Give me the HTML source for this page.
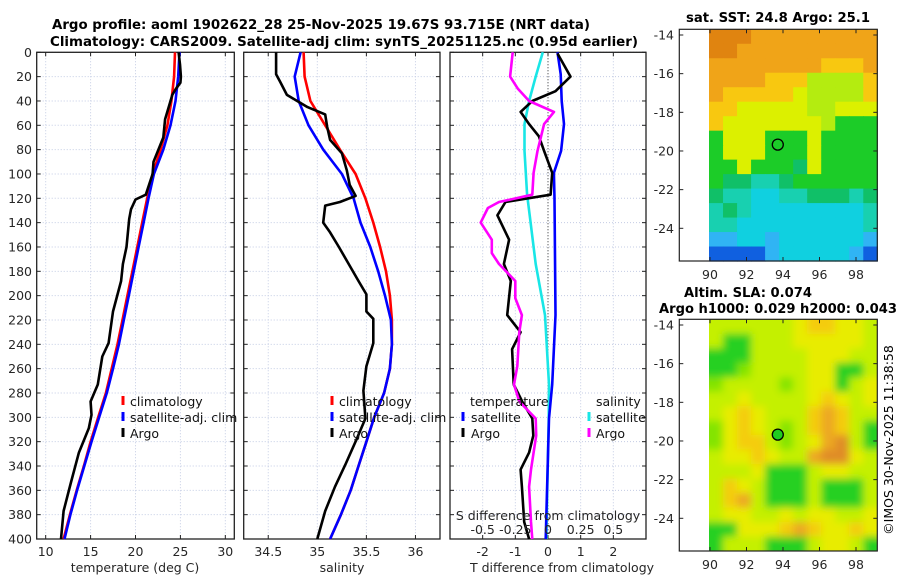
<!DOCTYPE html>
<html><head><meta charset="utf-8"><style>
html,body{margin:0;padding:0;background:#fff;}
svg{display:block;font-family:"DejaVu Sans","Liberation Sans",sans-serif;}
</style></head><body>
<svg id="fig" width="900" height="580" viewBox="0 0 900 580">
<defs>
<filter id="soft" x="-5%" y="-5%" width="110%" height="110%"><feGaussianBlur stdDeviation="4"/></filter>
<clipPath id="slaclip"><rect x="709" y="319.3" width="168.3" height="231.7"/></clipPath>
</defs>
<text x="321" y="29" text-anchor="middle" font-weight="bold" font-size="13" textLength="538" lengthAdjust="spacingAndGlyphs">Argo profile: aoml 1902622_28 25-Nov-2025 19.67S 93.715E (NRT data)</text>
<text x="344" y="46" text-anchor="middle" font-weight="bold" font-size="13" textLength="588" lengthAdjust="spacingAndGlyphs">Climatology: CARS2009. Satellite-adj clim: synTS_20251125.nc (0.95d earlier)</text>
<text x="778" y="22" text-anchor="middle" font-weight="bold" font-size="13" textLength="184" lengthAdjust="spacingAndGlyphs">sat. SST: 24.8 Argo: 25.1</text>
<text x="748" y="297" text-anchor="middle" font-weight="bold" font-size="13" textLength="128" lengthAdjust="spacingAndGlyphs">Altim. SLA: 0.074</text>
<text x="778" y="313" text-anchor="middle" font-weight="bold" font-size="13" textLength="238" lengthAdjust="spacingAndGlyphs">Argo h1000: 0.029 h2000: 0.043</text>
<text transform="translate(893,440) rotate(-90)" text-anchor="middle" font-size="12.5">©IMOS 30-Nov-2025 11:38:58</text>
<g id="layer"></g>
</svg>
<script>
// ---- temperature panel data ----
const tDepth = [0,20,40,60,80,100,120,140,160,180,200,220,240,260,280,300,320,340,360,380,400];
const tClim = [24.4,24.3,24.0,23.55,22.8,21.9,21.3,20.75,20.2,19.65,19.1,18.55,18.0,17.35,16.7,15.85,15.0,14.25,13.45,12.7,12.0];
const tSat = [24.9,24.75,24.45,23.9,23.1,22.05,21.45,20.9,20.35,19.8,19.25,18.7,18.15,17.5,16.8,15.95,15.1,14.3,13.5,12.75,12.1];
const tArgoDepth = [0,10,20,25,30,35,45,55,70,90,100,117,121,129,137,160,174,188,213,239,250,273,287,298,309,329,354,377,400];
const tArgo = [24.8,24.95,25.05,25.0,24.5,24.1,23.7,23.3,23.1,22.0,21.9,21.15,20.0,19.5,19.3,19.0,18.6,18.4,17.5,17.0,16.3,15.8,15.0,15.1,14.8,13.7,12.8,12.0,11.7];
// ---- salinity panel data ----
const sDepth = [0,20,40,60,80,100,120,140,160,180,200,220,240,260,280,300,320,340,360,380,400];
const sClim = [34.86,34.87,34.93,35.08,35.23,35.39,35.49,35.57,35.64,35.70,35.74,35.76,35.76,35.74,35.68,35.58,35.5,35.42,35.34,35.24,35.13];
const sSat = [34.83,34.77,34.81,34.91,35.06,35.25,35.37,35.44,35.54,35.62,35.69,35.75,35.76,35.74,35.68,35.58,35.5,35.42,35.34,35.24,35.13];
const sArgoDepth = [0,18,24,35,45,51,61,72,83,97,109,118,123,126,140,148,160,174,188,199,213,219,239,258,278,301,318,338,357,377,400];
const sArgo = [34.58,34.58,34.62,34.69,34.9,35.08,35.1,35.13,35.25,35.3,35.33,35.39,35.23,35.08,35.06,35.13,35.22,35.32,35.42,35.5,35.5,35.57,35.57,35.5,35.47,35.49,35.4,35.29,35.18,35.08,35.0];
// ---- difference panel data ----
const dTArgoDepth = [1,20,32,40,49,59,69,81,99,117,123,134,154,174,188,216,230,244,273,287,301,315,329,343,357,386,400];
const dTArgo = [0.29,0.69,0.23,-0.48,-0.84,-0.58,-0.28,-0.12,0.13,0.08,-1.3,-1.55,-1.19,-1.35,-1.14,-1.25,-0.84,-1.1,-1.05,-0.79,-0.48,-0.45,-0.58,-0.84,-0.8,-0.73,-0.58];
const dTSatDepth = [0,18,40,59,81,99,120,216,273,301,400];
const dTSat = [0.29,0.39,0.42,0.49,0.4,0.18,0.2,0.23,0.13,0.03,-0.07];
const dSSatDepth = [0,20,40,59,81,117,134,174,216,273,301,400];
const dSSat = [-0.04,-0.094,-0.145,-0.18,-0.18,-0.16,-0.14,-0.094,-0.023,0.008,0.005,-0.013];
const dSArgoDepth = [0,20,30,40,49,59,81,99,117,123,128,140,154,165,174,188,202,216,230,258,273,287,301,315,343,357,386,400];
const dSArgo = [-0.27,-0.29,-0.23,-0.145,0.046,-0.03,-0.08,-0.11,-0.12,-0.375,-0.46,-0.515,-0.43,-0.43,-0.375,-0.25,-0.25,-0.2,-0.22,-0.235,-0.26,-0.22,-0.094,-0.09,-0.13,-0.145,-0.13,-0.12];
// ---- ticks ----
const depthTicks = [0,20,40,60,80,100,120,140,160,180,200,220,240,260,280,300,320,340,360,380,400];
const tTicks = [10,15,20,25,30];
const sTicks = [34.5,35,35.5,36];
const dTTicks = [-2,-1,0,1,2];
const dSTicks = [-0.5,-0.25,0,0.25,0.5];
const dSTickLabels = ["-0.5","-0.25","0","0.25","0.5"];
const latTicks = [-14,-16,-18,-20,-22,-24];
const lonTicks = [90,92,94,96,98];
// ---- map images (colour code grids) ----
const sstRows = ["OOOooooooooo","OOoooooooooo","ooooooooYYYo","ooooYYYLLLLY","oYYYYYyLLLLY","YYyyyyyLLyyy","YyyyyyyyLGGG","GyyyGGGyGGGG","GyyyGGGyGGGG","GGyGGGgyGGGG","GggccgGGGGGG","gccCCccgggcg","cgcCCCCCCCCc","ccCCCCCCCCCc","bbCCbCCCCCCb","BBBBbCCCCCbB"];
const slaRows = ["LLLLLLyYYyyL","LGGLLLyyyyyL","GGGLLLLyyyLL","GGgLLLLyyGGL","gLLLLgLyyGLy","LLyLLLLyYyLy","LyYyLLLYoYLL","gyYyLgLYoYLG","gyYYLgLyoOLG","LyyYyLLoOOyL","LLLyGGGLyyLL","LYyLGGGLGGGL","LYoLGGGLGGGL","LyyLLyLyyLLy","GGyyyYoYyyYy","GLLLGGGLyyLG"];
const argoLon = 93.715, argoLat = -19.67;

const NS="http://www.w3.org/2000/svg";
const layer=document.getElementById('layer');
function el(tag,attrs,parent){const e=document.createElementNS(NS,tag);for(const k in attrs)e.setAttribute(k,attrs[k]);(parent||layer).appendChild(e);return e;}
const Y0=52.3,Y1=539;
const yD=d=>Y0+(d/400)*(Y1-Y0);
function lin(d0,d1,r0,r1){return v=>r0+(v-d0)/(d1-d0)*(r1-r0);}

function panel(name,x0,x1,xs,ticks,labels){
  const g=el('g',{});
  
  
  depthTicks.forEach(d=>{const l=el('line',{x1:x0,x2:x1,y1:yD(d),y2:yD(d),stroke:'#c4cce4','stroke-width':1,'stroke-dasharray':'1,2'},g);
    
    el('line',{x1:x0,x2:x0+4,y1:yD(d),y2:yD(d),stroke:'#222'},g);el('line',{x1:x1-4,x2:x1,y1:yD(d),y2:yD(d),stroke:'#222'},g);});
  ticks.forEach((t,i)=>{const x=xs(t);const l=el('line',{x1:x,x2:x,y1:Y0,y2:Y1,stroke:'#c4cce4','stroke-width':1,'stroke-dasharray':'1,2'},g);
    
    el('line',{x1:x,x2:x,y1:Y1-4,y2:Y1,stroke:'#222'},g);el('line',{x1:x,x2:x,y1:Y0,y2:Y0+4,stroke:'#222'},g);
    if(labels){const tx=el('text',{x:x,y:556,'text-anchor':'middle','font-size':12.5,fill:'#262626'},g);tx.textContent=labels[i];
      }});
  const r=el('rect',{x:x0,y:Y0,width:x1-x0,height:Y1-Y0,fill:'none',stroke:'#222','stroke-width':1.3},g);
  
  return g;
}
function line(name,depths,vals,xs,color,g){
  const pts=depths.map((d,i)=>xs(vals[i]).toFixed(1)+','+yD(d).toFixed(1)).join(' ');
  const p=el('polyline',{points:pts,fill:'none',stroke:color,'stroke-width':2.6,'stroke-linejoin':'round'},g);
  
  
}
function txt(s,x,y,opts,name,g){const t=el('text',Object.assign({x:x,y:y,'font-size':12.5,fill:'#111'},opts||{}),g);t.textContent=s;
  return t;}
function legendMark(x,y,color,name,g){const l=el('line',{x1:x,x2:x,y1:y-6,y2:y+3,stroke:color,'stroke-width':3},g);
  }

depthTicks.forEach(d=>{txt(String(d),32,yD(d)+4.5,{'text-anchor':'end',fill:'#262626'},'y-tick-label');});

const xT=lin(9,31,36.7,234.3);
const g1=panel('temperature-panel',36.7,234.3,xT,tTicks,tTicks.map(String));
line('temp-climatology-line',tDepth,tClim,xT,'#ff0000',g1);
line('temp-satellite-line',tDepth,tSat,xT,'#0000ff',g1);
line('temp-argo-line',tArgoDepth,tArgo,xT,'#000',g1);
txt('temperature (deg C)',135,572,{'text-anchor':'middle',fill:'#262626'},'x-axis-title-temperature',g1);
legendMark(123,402,'#ff0000','legend-climatology-marker',g1);txt('climatology',130,406,{},'legend-climatology',g1);
legendMark(123,418,'#0000ff','legend-satellite-marker',g1);txt('satellite-adj. clim',130,422,{},'legend-satellite',g1);
legendMark(123,434,'#000','legend-argo-marker',g1);txt('Argo',130,438,{},'legend-argo',g1);

const xS=lin(34.25,36.25,243.7,440);
const g2=panel('salinity-panel',243.7,440,xS,sTicks,sTicks.map(String));
line('sal-climatology-line',sDepth,sClim,xS,'#ff0000',g2);
line('sal-satellite-line',sDepth,sSat,xS,'#0000ff',g2);
line('sal-argo-line',sArgoDepth,sArgo,xS,'#000',g2);
txt('salinity',342,572,{'text-anchor':'middle',fill:'#262626'},'x-axis-title-salinity',g2);
legendMark(332,402,'#ff0000','legend-climatology-marker',g2);txt('climatology',339,406,{},'legend-climatology',g2);
legendMark(332,418,'#0000ff','legend-satellite-marker',g2);txt('satellite-adj. clim',339,422,{},'legend-satellite',g2);
legendMark(332,434,'#000','legend-argo-marker',g2);txt('Argo',339,438,{},'legend-argo',g2);

const xDT=lin(-3,3,450,646);
const xDS=lin(-0.75,0.75,450,646);
const g3=panel('difference-panel',450,646,xDT,dTTicks,dTTicks.map(String));
const zl=el('line',{x1:xDT(0),x2:xDT(0),y1:Y0,y2:Y1,stroke:'#333','stroke-width':1,'stroke-dasharray':'1,2'},g3);

line('diff-sal-satellite-line',dSSatDepth,dSSat,xDS,'#19e6e6',g3);
line('diff-temp-satellite-line',dTSatDepth,dTSat,xDT,'#0000ff',g3);
line('diff-temp-argo-line',dTArgoDepth,dTArgo,xDT,'#000',g3);
line('diff-sal-argo-line',dSArgoDepth,dSArgo,xDS,'#ff00ff',g3);
txt('T difference from climatology',562,572,{'text-anchor':'middle',fill:'#262626'},'x-axis-title-tdiff',g3);
txt('S difference from climatology',548,520,{'text-anchor':'middle',fill:'#262626'},'s-axis-title',g3);
dSTicks.forEach((v,i)=>txt(dSTickLabels[i],xDS(v),534,{'text-anchor':'middle',fill:'#262626'},'s-tick-label',g3));
txt('temperature',470,406,{},'legend-temperature-heading',g3);
txt('salinity',596,406,{},'legend-salinity-heading',g3);
legendMark(463,418,'#0000ff','legend-t-satellite-marker',g3);txt('satellite',471,422,{},'legend-t-satellite',g3);
legendMark(463,434,'#000','legend-t-argo-marker',g3);txt('Argo',471,438,{},'legend-t-argo',g3);
legendMark(589,418,'#19e6e6','legend-s-satellite-marker',g3);txt('satellite',596,422,{},'legend-s-satellite',g3);
legendMark(589,434,'#ff00ff','legend-s-argo-marker',g3);txt('Argo',596,438,{},'legend-s-argo',g3);

const sstCol={O:'#e08410',o:'#f0a418',Y:'#f8c810',y:'#dcf000',L:'#b4ec10',G:'#1ccc28',g:'#10c068',c:'#18d0b0',C:'#10d0e0',b:'#30b4f4',B:'#1060e0'};
const slaCol={L:'#c4f000',y:'#e8ec00',Y:'#f4cc10',o:'#eca820',O:'#e08c28',G:'#28d020',g:'#84e400'};
function map(name,top,rows,cols,filledMarker,smooth){
  const g=el('g',{});
  
  
  const bx0=679.3,bx1=877.3,by0=top,by1=top+231.7;
  const lx=lin(90,98,710,856), ly=lin(-14,-24,top+5.7,top+199);
  const ix0=709, ncol=rows[0].length, nrow=rows.length;
  const cw=(bx1-ix0)/ncol, ch=(by1-by0)/nrow;
  let host=g;
  if(smooth){const cg=el('g',{'clip-path':'url(#slaclip)'},g);host=el('g',{filter:'url(#soft)'},cg);
    el('rect',{x:ix0-10,y:by0-10,width:bx1-ix0+20,height:by1-by0+20,fill:cols.L},host);}
  rows.forEach((r,ri)=>{for(let ci=0;ci<ncol;ci++){
    let x=ix0+ci*cw,y=by0+ri*ch,w=cw+0.6,h=ch+0.6;
    if(smooth){if(ci==0){x-=10;w+=10;} if(ci==ncol-1){w+=10;} if(ri==0){y-=10;h+=10;} if(ri==nrow-1){h+=10;}}
    el('rect',{x:x,y:y,width:w,height:h,fill:cols[r[ci]]},host);}});
  latTicks.forEach(v=>{const y=ly(v);el('line',{x1:bx0,x2:bx0+4,y1:y,y2:y,stroke:'#222'},g);el('line',{x1:bx1-4,x2:bx1,y1:y,y2:y,stroke:'#222'},g);
    txt(String(v),674,y+4.5,{'text-anchor':'end',fill:'#262626'},'lat-tick-label',g);});
  lonTicks.forEach(v=>{const x=lx(v);el('line',{x1:x,x2:x,y1:by1-4,y2:by1,stroke:'#222'},g);el('line',{x1:x,x2:x,y1:by0,y2:by0+4,stroke:'#222'},g);
    txt(String(v),x,by1+18,{'text-anchor':'middle',fill:'#262626'},'lon-tick-label',g);});
  const f=el('rect',{x:bx0,y:by0,width:bx1-bx0,height:by1-by0,fill:'none',stroke:'#222','stroke-width':1.2},g);
  
  const c=el('circle',{cx:lx(argoLon),cy:ly(argoLat),r:5.5,fill:filledMarker?'#20cc20':'none',stroke:'#000','stroke-width':1.3},g);
  
}
map('sst-map',29.3,sstRows,sstCol,false,false);
map('sla-map',319.3,slaRows,slaCol,true,true);
</script>
</body></html>
